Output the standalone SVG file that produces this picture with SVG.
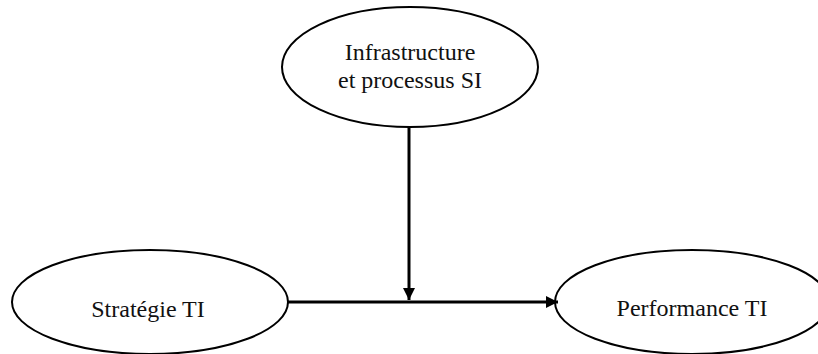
<svg xmlns="http://www.w3.org/2000/svg" width="818" height="354" viewBox="0 0 818 354">
<style>
.node ellipse{fill:#fff;stroke:#000;stroke-width:2}
.node text{font-family:"Liberation Serif","Times New Roman",serif;font-size:24px;fill:#111;text-anchor:middle}
.conn line{stroke:#000;stroke-width:3}
</style>
<defs>
<marker id="arr" viewBox="0 0 10 10" refX="10" refY="5" markerWidth="4" markerHeight="4" markerUnits="strokeWidth" orient="auto">
<path d="M0,0 L10,5 L0,10 z" fill="#000"/>
</marker>
</defs>
<rect width="818" height="354" fill="#fff"/>
<g id="infra" class="node">
<ellipse cx="410" cy="67" rx="128" ry="60"/>
<text x="410" y="60">Infrastructure</text>
<text x="410" y="88">et processus SI</text>
</g>
<g id="strategie" class="node">
<ellipse cx="150" cy="302" rx="138" ry="52"/>
<text x="148" y="317">Stratégie TI</text>
</g>
<g id="performance" class="node">
<ellipse cx="692" cy="302" rx="137" ry="52"/>
<text x="692" y="316">Performance TI</text>
</g>
<g id="connectors" class="conn">
<line x1="288" y1="302" x2="558" y2="302" marker-end="url(#arr)"/>
<line x1="409" y1="127" x2="409" y2="300" marker-end="url(#arr)"/>
</g>
</svg>
